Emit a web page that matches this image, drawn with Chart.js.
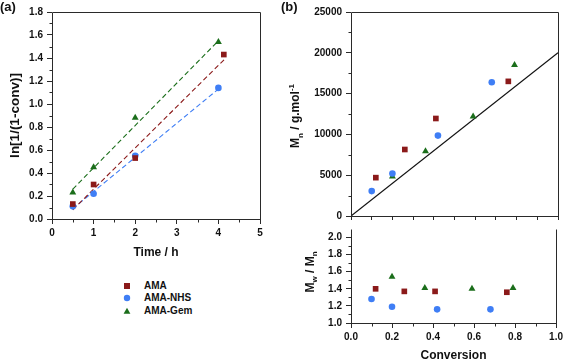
<!DOCTYPE html>
<html>
<head>
<meta charset="utf-8">
<script src="https://cdn.jsdelivr.net/npm/chart.js@4.4.0/dist/chart.umd.min.js"></script>
<style>
  body { margin: 0; background: #fff; }
  #wrap { position: relative; width: 566px; height: 363px; overflow: hidden;
          font-family: "Liberation Sans", Arial, sans-serif; font-weight: bold; color: #111; }
  canvas { position: absolute; }
  .panel { position: absolute; font-size: 13px; }
  .ytitle { position: absolute; font-size: 12px; white-space: nowrap;
            transform: translate(-50%, -50%) rotate(-90deg); }
  .ytitle sub, .ytitle sup { font-size: 8px; }
  #legend { position: absolute; left: 122px; top: 280px; font-size: 10px; line-height: 12.3px; }
  #legend div { display: flex; align-items: center; height: 12.3px; }
  #legend svg { width: 10px; height: 10px; margin-right: 12px; }
</style>
</head>
<body>
<div id="wrap">
  <canvas id="chartA" width="270" height="260" style="left:0;top:0"></canvas>
  <canvas id="chartPdi" width="286" height="144" style="left:280px;top:219px"></canvas>
  <canvas id="chartMn" width="286" height="226" style="left:280px;top:0"></canvas>
  <div class="panel" style="left:0;top:-1px">(a)</div>
  <div class="panel" style="left:281px;top:-1px">(b)</div>
  <div class="ytitle" style="left:296px;top:116px">M<sub>n</sub> / g.mol<sup>-1</sup></div>
  <div class="ytitle" style="left:311px;top:272px">M<sub>w</sub> / M<sub>n</sub></div>
  <div id="legend">
    <div><svg viewBox="0 0 10 10"><rect x="2" y="2" width="6" height="6" fill="#8b1a1a"/></svg>AMA</div>
    <div><svg viewBox="0 0 10 10"><circle cx="5" cy="5" r="3.2" fill="#3f7ef5"/></svg>AMA-NHS</div>
    <div><svg viewBox="0 0 10 10"><polygon points="5,1.8 8.4,7.8 1.6,7.8" fill="#1b6e1b"/></svg>AMA-Gem</div>
  </div>
</div>
<script>
// (a) kinetics: ln[1/(1-conv)] vs time
const amaTime = [0.5, 1, 2, 4.13];
const amaLn = [0.13, 0.30, 0.53, 1.43];
const nhsTime = [0.5, 1, 2, 4];
const nhsLn = [0.11, 0.22, 0.55, 1.14];
const gemTime = [0.5, 1, 2, 4];
const gemLn = [0.23, 0.45, 0.88, 1.54];
// dashed linear fits, start and end points
const amaFitX = [0.5, 4.15], amaFitY = [0.08, 1.39];
const nhsFitX = [0.5, 4], nhsFitY = [0.09, 1.13];
const gemFitX = [0.5, 4], gemFitY = [0.26, 1.55];

// (b) Mn and Mw/Mn vs conversion
const amaConv = [0.12, 0.26, 0.41, 0.76];
const amaMn = [4700, 8150, 11950, 16500];
const amaPdi = [1.40, 1.37, 1.37, 1.36];
const nhsConv = [0.10, 0.20, 0.42, 0.68];
const nhsMn = [3050, 5200, 9850, 16400];
const nhsPdi = [1.28, 1.19, 1.16, 1.16];
const gemConv = [0.20, 0.36, 0.59, 0.79];
const gemMn = [4850, 7950, 12200, 18500];
const gemPdi = [1.54, 1.41, 1.40, 1.41];
const theoConv = [0, 1];
const theoMn = [0, 20000];

const RED = '#8b1a1a', BLUE = '#3f7ef5', GREEN = '#1b6e1b', AXIS = '#2a2a2a';
const FONT = '"Liberation Sans", Arial, sans-serif';

const pts = (xs, ys) => xs.map((x, i) => ({ x: x, y: ys[i] }));

// frame around the plot area + short minor ticks between the major ones
const framePlugin = {
  id: 'frame',
  afterDraw(chart, args, opts) {
    const { ctx, chartArea: a, scales } = chart;
    const L = Math.round(a.left) + 0.5, R = Math.round(a.right) + 0.5;
    const T = Math.round(a.top) + 0.5, B = Math.round(a.bottom) + 0.5;
    ctx.save();
    ctx.strokeStyle = AXIS;
    ctx.lineWidth = 1;
    ctx.beginPath();
    ctx.moveTo(L, B); ctx.lineTo(R, B);
    ctx.moveTo(L, B); ctx.lineTo(L, T);
    ctx.moveTo(R, B); ctx.lineTo(R, T);
    if (!opts.noTop) { ctx.moveTo(L, T); ctx.lineTo(R, T); }
    if (opts.minorX) {
      scales.x.ticks.forEach(t => {
        const v = t.value + opts.minorX;
        if (v < scales.x.max) {
          const p = Math.round(scales.x.getPixelForValue(v)) + 0.5;
          ctx.moveTo(p, B); ctx.lineTo(p, B + 3);
        }
      });
    }
    if (opts.minorY) {
      scales.y.ticks.forEach(t => {
        const v = t.value + opts.minorY;
        if (v < scales.y.max) {
          const p = Math.round(scales.y.getPixelForValue(v)) + 0.5;
          ctx.moveTo(L, p); ctx.lineTo(L - 3, p);
        }
      });
    }
    ctx.stroke();
    ctx.restore();
  }
};

function markers(label, data, color, style, r) {
  return { label, data, backgroundColor: color, borderColor: color, borderWidth: 0,
           pointStyle: style, pointRadius: r, pointHoverRadius: r, order: 1 };
}
function fitLine(data, color) {
  return { data, showLine: true, borderColor: color, borderWidth: 1.1, borderDash: [5, 3],
           pointRadius: 0, order: 2 };
}
function axis(opts) {
  const o = {
    type: 'linear', min: opts.min, max: opts.max,
    border: { display: false },
    grid: { drawOnChartArea: false, tickLength: opts.tick || 5, color: AXIS, tickColor: AXIS },
    ticks: { stepSize: opts.step, color: '#111', padding: opts.pad || 3,
             includeBounds: opts.bounds !== false,
             font: { family: FONT, weight: 'bold', size: 10 },
             callback: opts.fmt || (v => v) },
    afterFit: opts.fit
  };
  if (opts.hide) o.ticks.display = false;
  if (opts.title) o.title = { display: true, text: opts.title, color: '#111', padding: opts.tpad,
                              font: { family: FONT, weight: 'bold', size: opts.tsize || 12 } };
  return o;
}
const base = { responsive: false, animation: false, devicePixelRatio: 1,
               plugins: { legend: { display: false }, tooltip: { enabled: false } } };

new Chart(document.getElementById('chartA'), {
  type: 'scatter',
  data: { datasets: [
    markers('AMA', pts(amaTime, amaLn), RED, 'rect', 4),
    markers('AMA-NHS', pts(nhsTime, nhsLn), BLUE, 'circle', 3.3),
    markers('AMA-Gem', pts(gemTime, gemLn), GREEN, 'triangle', 4),
    fitLine(pts(amaFitX, amaFitY), RED),
    fitLine(pts(nhsFitX, nhsFitY), BLUE),
    fitLine(pts(gemFitX, gemFitY), GREEN)
  ] },
  options: Object.assign({}, base, {
    layout: { padding: { left: 0, top: 12, right: 10, bottom: 0 } },
    scales: {
      x: axis({ min: 0, max: 5, step: 1, title: 'Time / h', tpad: { top: 0, bottom: 0 },
                fit: s => { s.height = 41; } }),
      y: axis({ min: 0, max: 1.8, step: 0.2, pad: 4, fmt: v => v.toFixed(1),
                title: 'ln[1/(1-conv)]', tsize: 13.5, tpad: { top: 7, bottom: 0 },
                fit: s => { s.width = 52; } })
    },
    plugins: Object.assign({}, base.plugins, { frame: { minorX: 0.5, minorY: 0.1 } })
  }),
  plugins: [framePlugin]
});

new Chart(document.getElementById('chartMn'), {
  type: 'scatter',
  data: { datasets: [
    markers('AMA', pts(amaConv, amaMn), RED, 'rect', 4),
    markers('AMA-NHS', pts(nhsConv, nhsMn), BLUE, 'circle', 3.3),
    markers('AMA-Gem', pts(gemConv, gemMn), GREEN, 'triangle', 4),
    { data: pts(theoConv, theoMn), showLine: true, borderColor: '#111', borderWidth: 1.2,
      pointRadius: 0, order: 2 }
  ] },
  options: Object.assign({}, base, {
    layout: { padding: { left: 0, top: 12, right: 8, bottom: 0 } },
    scales: {
      x: axis({ min: 0, max: 1, step: 0.1, tick: 4, hide: true, fit: s => { s.height = 7; } }),
      y: axis({ min: 0, max: 25000, step: 5000, pad: 4, fit: s => { s.width = 71; } })
    },
    plugins: Object.assign({}, base.plugins, { frame: { minorY: 2500 } })
  }),
  plugins: [framePlugin]
});

new Chart(document.getElementById('chartPdi'), {
  type: 'scatter',
  data: { datasets: [
    markers('AMA', pts(amaConv, amaPdi), RED, 'rect', 4),
    markers('AMA-NHS', pts(nhsConv, nhsPdi), BLUE, 'circle', 3.3),
    markers('AMA-Gem', pts(gemConv, gemPdi), GREEN, 'triangle', 4)
  ] },
  options: Object.assign({}, base, {
    layout: { padding: { left: 0, top: 1, right: 8, bottom: 0 } },
    scales: {
      x: axis({ min: 0, max: 1, step: 0.2, fmt: v => v.toFixed(1),
                title: 'Conversion', tpad: { top: 0, bottom: 0 },
                fit: s => { s.height = 40; } }),
      y: axis({ min: 1, max: 2.1, step: 0.2, pad: 4, bounds: false, fmt: v => v.toFixed(1),
                fit: s => { s.width = 71; } })
    },
    plugins: Object.assign({}, base.plugins, { frame: { minorX: 0.1, minorY: 0.1, noTop: true } })
  }),
  plugins: [framePlugin]
});
</script>
</body>
</html>
